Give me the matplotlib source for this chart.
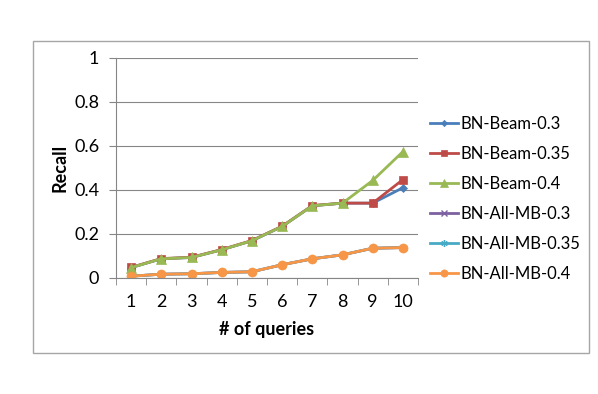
import matplotlib.pyplot as plt
from matplotlib.patches import Rectangle

queries = [1, 2, 3, 4, 5, 6, 7, 8, 9, 10]
beam_03 = [0.045, 0.085, 0.091, 0.126, 0.167, 0.232, 0.326, 0.338, 0.338, 0.408]
beam_035 = [0.046, 0.086, 0.092, 0.127, 0.168, 0.233, 0.327, 0.338, 0.338, 0.445]
beam_04 = [0.045, 0.085, 0.091, 0.126, 0.167, 0.232, 0.326, 0.338, 0.441, 0.572]
allmb_03 = [0.006, 0.015, 0.017, 0.023, 0.026, 0.058, 0.085, 0.103, 0.133, 0.136]
allmb_035 = [0.006, 0.015, 0.017, 0.023, 0.026, 0.058, 0.085, 0.103, 0.133, 0.136]
allmb_04 = [0.006, 0.015, 0.017, 0.023, 0.026, 0.058, 0.085, 0.103, 0.133, 0.136]
y_ticks = [0, 0.2, 0.4, 0.6, 0.8, 1]
y_labels = ['0', '0.2', '0.4', '0.6', '0.8', '1']

plt.rcParams['font.family'] = ['Lato', 'DejaVu Sans']

fig = plt.figure(figsize=(5.98, 3.94), dpi=100)
fig.patches.append(Rectangle((33 / 598, 1 - 353 / 394), 556 / 598, 312 / 394,
                             transform=fig.transFigure, fill=False,
                             edgecolor='#a6a6a6', linewidth=1))
ax = fig.add_axes([116 / 598, 1 - 277.5 / 394, 302 / 598, 220 / 394])

series = [  # (values, label, color, marker, size)
    (beam_03, 'BN-Beam-0.3', '#4a7ebb', 'D', 4),
    (beam_035, 'BN-Beam-0.35', '#be4b48', 's', 6),
    (beam_04, 'BN-Beam-0.4', '#98b954', '^', 6.5),
    (allmb_03, 'BN-All-MB-0.3', '#7d60a0', 'x', 5),
    (allmb_035, 'BN-All-MB-0.35', '#46aac5', (6, 2, 0), 6),
    (allmb_04, 'BN-All-MB-0.4', '#f79646', 'o', 6.5),
]
for vals, lab, col, mk, ms in series:
    ax.plot(queries, vals, color=col, marker=mk, markersize=ms, linewidth=2,
            label=lab, markeredgewidth=1 if mk in ('x', (6, 2, 0)) else 0.5,
            markeredgecolor=col)

ax.set_xlim(0.5, 10.5)
ax.set_ylim(0, 1)
ax.set_yticks(y_ticks)
ax.set_yticklabels(y_labels)
ax.set_xticks(queries)
ax.set_xticks([q + 0.5 for q in [0] + queries], minor=True)
ax.tick_params(axis='x', which='major', length=0, pad=12, labelsize=13)
ax.tick_params(axis='x', which='minor', length=5, color='#868686')
ax.tick_params(axis='y', length=5, color='#868686', pad=7, labelsize=13)
ax.grid(axis='y', color='#868686', linewidth=0.8)
ax.set_axisbelow(True)
for s in ['top', 'right']:
    ax.spines[s].set_visible(False)
for s in ['left', 'bottom']:
    ax.spines[s].set_color('#868686')

ax.set_xlabel('# of queries', fontweight='bold', fontsize=13, labelpad=8)
ax.set_ylabel('Recall', fontweight='bold', fontsize=13, labelpad=4)

ax.legend(loc='upper left', bbox_to_anchor=(1.0, 0.786), frameon=False,
          fontsize=12, handlelength=1.7, handletextpad=0.15,
          labelspacing=0.84, markerscale=0.8, borderaxespad=0.3)

fig.savefig('out.png', dpi=100)
